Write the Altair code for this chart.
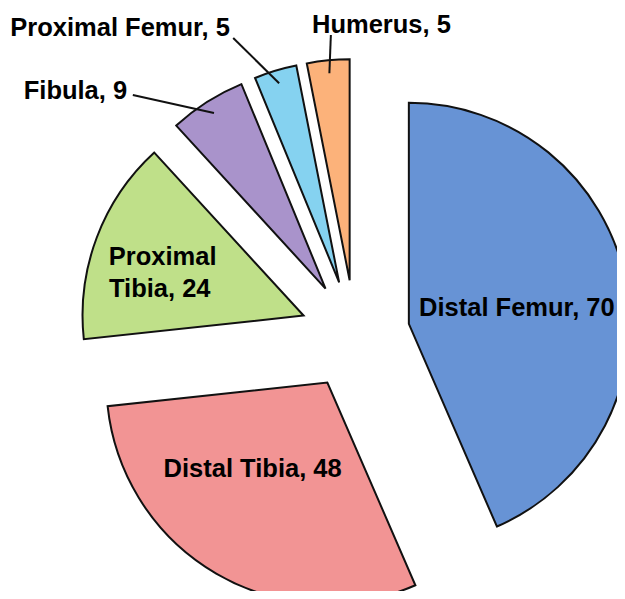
import altair as alt
import numpy as np
import pandas as pd

# ---- data -------------------------------------------------------------
categories = ["Distal Femur", "Distal Tibia", "Proximal Tibia", "Fibula", "Proximal Femur", "Humerus"]
values = [70, 48, 24, 9, 5, 5]
colors = ["#6793D5", "#F29494", "#BFE089", "#A993CB", "#85D2F0", "#FCB27A"]

# ---- layout / style ---------------------------------------------------
W, H = 609, 583          # view size in px (fits the page with its 8px margin)
CX, CY = 347, 327        # pie centre inside the view (px from left / top)
R = 221                  # pie radius
EXPLODE = 55             # explosion distance of every slice
FONT = "Liberation Sans"
FS = 25.5
INK = "#111111"

vals = np.array(values, dtype=float)
total = vals.sum()
mid = 2 * np.pi * (np.cumsum(vals) - vals / 2) / total   # clockwise from 12 o'clock


def polar(r, ang):
    return r * np.sin(ang), r * np.cos(ang)


ox, oy = polar(EXPLODE, mid)
slices = pd.DataFrame({
    "category": categories,
    "value": values,
    "order": list(range(len(values))),
    "ox": ox,
    "oy": oy,
})

# label anchors: (text, radius from centre, angle deg, align)
label_style = [
    ("Distal Femur, 70", 163, 83.3, "center"),
    ("Distal Tibia, 48", 175, 215.8, "center"),
    ("Proximal", 256, 285.9, "left"),
    ("Tibia, 24", 249, 278.8, "left"),
    ("Fibula, 9", 328, 316.0, "right"),
    ("Proximal Femur, 5", 324, 337.3, "right"),
    ("Humerus, 5", 305, 351.9, "left"),
]
lab_rows = []
for txt, r, deg, al in label_style:
    x, y = polar(r, np.deg2rad(deg))
    lab_rows.append({"text": txt, "x": x, "y": y, "align": al})
labels = pd.DataFrame(lab_rows)

# leader lines for the small slices: inner end on the slice mid-angle
leader_style = {"Fibula": (327, 317.2), "Proximal Femur": (321, 337.7), "Humerus": (301, 355.4)}
LEAD_IN = 263
lead_rows = []
for i, c in enumerate(categories):
    if c in leader_style:
        x1, y1 = polar(LEAD_IN, mid[i])
        r2, d2 = leader_style[c]
        x2, y2 = polar(r2, np.deg2rad(d2))
        lead_rows.append({"category": c, "x": x1, "y": y1, "x2": x2, "y2": y2})
leaders = pd.DataFrame(lead_rows)

xs = alt.Scale(domain=[-CX, W - CX], nice=False, zero=False)
ys = alt.Scale(domain=[-(H - CY), CY], nice=False, zero=False)

pie = alt.Chart(slices).mark_arc(radius=R, stroke=INK, strokeWidth=2, strokeJoin="miter").encode(
    x=alt.X("ox:Q", scale=xs, axis=None),
    y=alt.Y("oy:Q", scale=ys, axis=None),
    theta=alt.Theta("value:Q", stack=True),
    order=alt.Order("order:Q"),
    color=alt.Color("category:N", scale=alt.Scale(domain=categories, range=colors), legend=None),
)

lead = alt.Chart(leaders).mark_rule(color=INK, strokeWidth=2).encode(
    x=alt.X("x:Q", scale=xs, axis=None),
    y=alt.Y("y:Q", scale=ys, axis=None),
    x2="x2:Q",
    y2="y2:Q",
)


def text_layer(al):
    return alt.Chart(labels).transform_filter(alt.datum.align == al).mark_text(
        font=FONT, fontSize=FS, fontWeight="bold", color="#000000", align=al, baseline="alphabetic"
    ).encode(
        x=alt.X("x:Q", scale=xs, axis=None),
        y=alt.Y("y:Q", scale=ys, axis=None),
        text="text:N",
    )


chart = alt.layer(pie, lead, text_layer("center"), text_layer("left"), text_layer("right")).properties(
    width=W, height=H, padding=0, autosize=alt.AutoSizeParams(type="none"), background="white"
).configure_view(stroke=None)

chart.save("out.html", embed_options={"renderer": "svg", "actions": False})
